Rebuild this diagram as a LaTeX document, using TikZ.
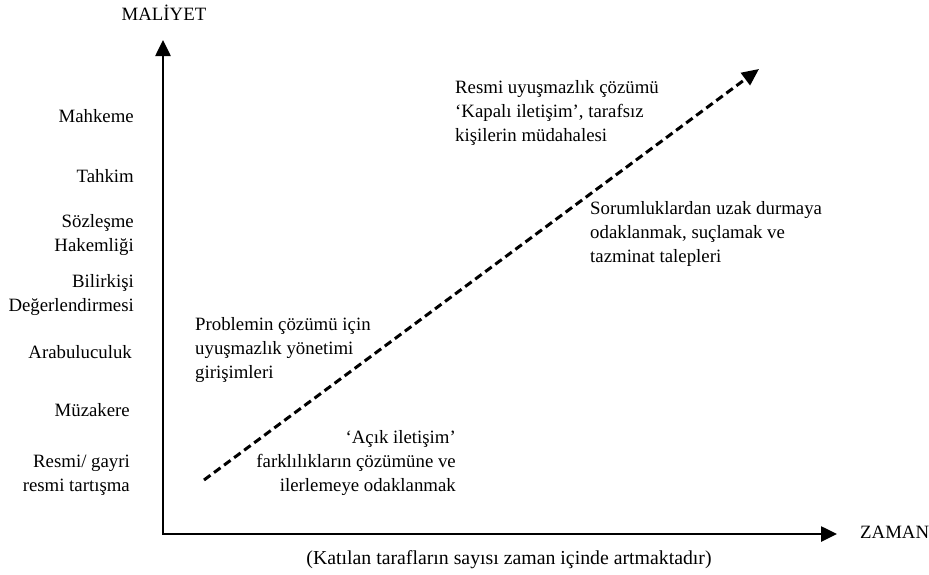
\documentclass[tikz,border=0pt]{standalone}
\usepackage{fontspec}
\setmainfont{Liberation Serif}
\usetikzlibrary{arrows.meta}
\begin{document}
\begin{tikzpicture}[x=1pt,y=-1pt,
  lbl/.style={inner sep=0pt, font=\fontsize{18.8}{23.8}\selectfont},
  lblr/.style={lbl, anchor=east, align=right},
  lbll/.style={lbl, anchor=west, align=left},
  axis/.style={line width=2.6pt, line join=miter, {Triangle[length=16pt,width=15pt]}-{Triangle[length=16pt,width=15pt]}},
  trend/.style={line width=3pt, dash pattern=on 8pt off 4.5pt, -{Triangle[length=17pt,width=15pt]}}]
\useasboundingbox (0,0) rectangle (929,574);
\coordinate (ytop) at (163,40);
\coordinate (O) at (163,534);
\coordinate (xend) at (837,534);
\draw[axis] (ytop) -- (O) -- (xend);
\coordinate (ds) at (204,480);
\coordinate (de) at (759,69);
\draw[trend] (ds) -- (de);
\node[lbl] (ylab) at (164,13) {MALİYET};
\node[lbl, anchor=west] (xlab) at (860,532) {ZAMAN};
\node[lbl, font=\fontsize{19.8}{24}\selectfont] (cap) at (509,560) {(Katılan tarafların sayısı zaman içinde artmaktadır)};
\node[lblr] (l1) at (134,116) {Mahkeme};
\node[lblr] (l2) at (134,176) {Tahkim};
\node[lblr] (l3) at (134,235) {Sözleşme\\Hakemliği};
\node[lblr] (l4) at (134,295) {Bilirkişi\\Değerlendirmesi};
\node[lblr] (l5) at (132,352) {Arabuluculuk};
\node[lblr] (l6) at (130,410) {Müzakere};
\node[lblr] (l7) at (130,475) {Resmi/ gayri\\resmi tartışma};
\node[lbll] (t1) at (195,350) {Problemin çözümü için\\uyuşmazlık yönetimi\\girişimleri};
\node[lblr] (t2) at (456,463) {‘Açık iletişim’\\farklılıkların çözümüne ve\\ilerlemeye odaklanmak};
\node[lbll] (t3) at (455,113) {Resmi uyuşmazlık çözümü\\‘Kapalı iletişim’, tarafsız\\kişilerin müdahalesi};
\node[lbll] (t4) at (590,234) {Sorumluklardan uzak durmaya\\odaklanmak, suçlamak ve\\tazminat talepleri};
\end{tikzpicture}
\end{document}
